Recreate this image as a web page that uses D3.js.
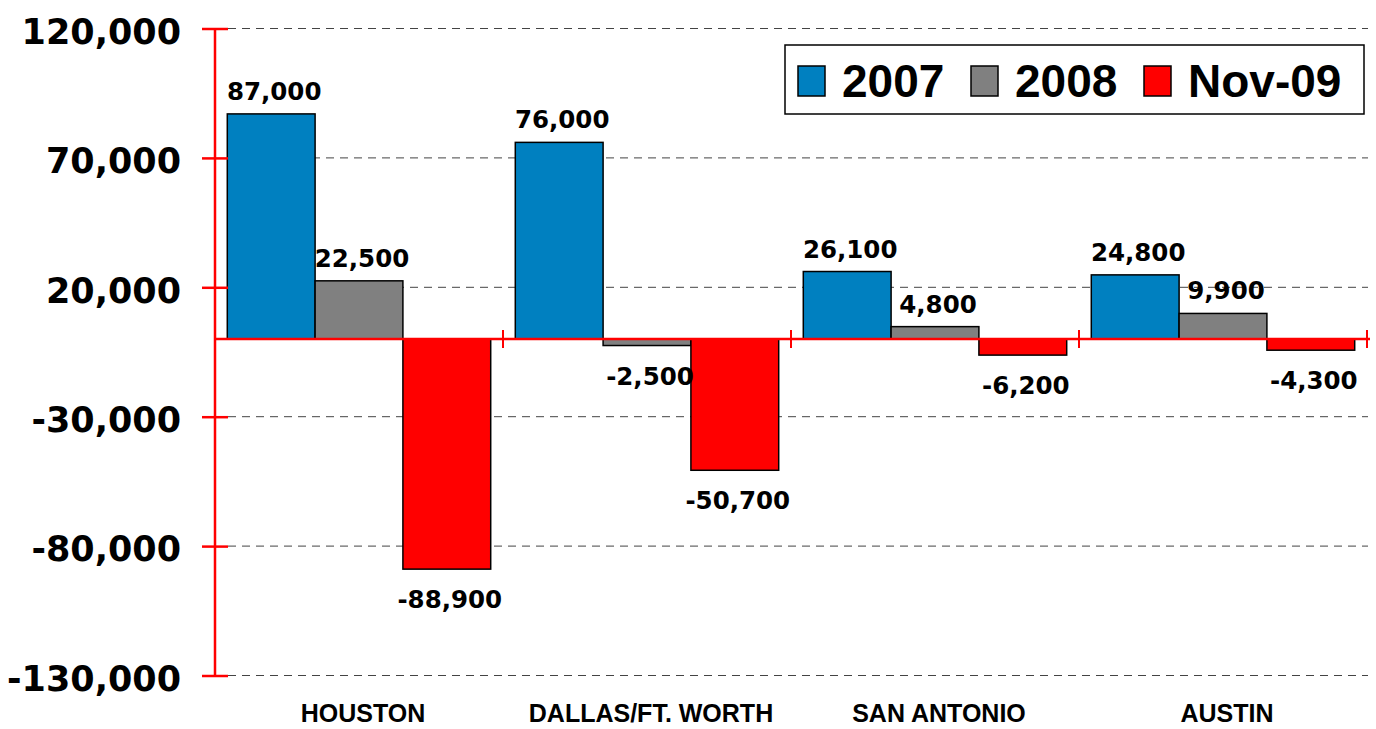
<!--
Texas job change bar chart: 2007, 2008, Nov-09
-->
<meta charset="utf-8">
<body style="margin:0;background:#fff">
<script src="https://d3js.org/d3.v7.min.js"></script>
<script>
var cities = ["HOUSTON", "DALLAS/FT. WORTH", "SAN ANTONIO", "AUSTIN"];
var seriesNames = ["2007", "2008", "Nov-09"];
var values2007 = [87000, 76000, 26100, 24800];
var values2008 = [22500, -2500, 4800, 9900];
var valuesNov09 = [-88900, -50700, -6200, -4300];
var yTicks = [120000, 70000, 20000, -30000, -80000, -130000];
var colors = ["#0080c0", "#808080", "#ff0000"];

var width = 1376, height = 729;
var plotLeft = 215, plotRight = 1367, plotTop = 28.5, plotBottom = 675.5;

var svg = d3.select("body").append("svg")
  .attr("width", width)
  .attr("height", height)
  .style("display", "block");

var allSeries = [values2007, values2008, valuesNov09];
var data = cities.map((c, i) => ({
  city: c,
  vals: seriesNames.map((s, j) => ({ series: s, idx: j, value: allSeries[j][i] }))
}));

var x = d3.scaleBand().domain(cities).range([plotLeft, plotRight]);
var xs = d3.scaleBand().domain(seriesNames).range([0, x.bandwidth()]).paddingOuter(0.14);
var y = d3.scaleLinear().domain([-130000, 120000]).range([plotBottom, plotTop]);

// plain hyphen for negatives, like the original
var locale = d3.formatLocale({ decimal: ".", thousands: ",", grouping: [3], currency: ["$", ""], minus: "-" });
var fmt = locale.format(",");

// dashed gridlines
svg.append("g")
  .selectAll("line")
  .data(yTicks)
  .enter().append("line")
  .attr("x1", plotLeft + 13).attr("x2", 1368)
  .attr("y1", d => y(d)).attr("y2", d => y(d))
  .attr("stroke", "#444")
  .attr("stroke-width", 1)
  .attr("stroke-dasharray", "8,6");

// bars
var groups = svg.append("g").selectAll("g")
  .data(data)
  .enter().append("g")
  .attr("transform", d => "translate(" + x(d.city) + ",0)");

groups.selectAll("rect")
  .data(d => d.vals)
  .enter().append("rect")
  .attr("x", d => xs(d.series))
  .attr("width", xs.bandwidth())
  .attr("y", d => y(Math.max(0, d.value)))
  .attr("height", d => Math.abs(y(d.value) - y(0)))
  .attr("fill", d => colors[d.idx])
  .attr("stroke", "#000")
  .attr("stroke-width", 1.5);

groups.selectAll("text")
  .data(d => d.vals)
  .enter().append("text")
  .attr("x", d => xs(d.series) + xs.bandwidth() / 2 + 3)
  .attr("y", d => d.value >= 0 ? y(d.value) - 14 : y(d.value) + 39)
  .attr("text-anchor", "middle")
  .style("font-family", "DejaVu Sans")
  .style("font-weight", "bold")
  .style("font-size", "24.5px")
  .text(d => fmt(d.value));

// y axis (red, ticks crossing the line)
var yAxis = svg.append("g")
  .attr("transform", "translate(" + plotLeft + ",0)")
  .call(d3.axisLeft(y).tickValues(yTicks).tickSize(13).tickPadding(21).tickFormat(fmt));
yAxis.select(".domain").attr("stroke", "#ff0000").attr("stroke-width", 2.5)
  .attr("d", "M0," + y(120000) + "V" + y(-130000));
yAxis.selectAll(".tick line").attr("x1", 13).attr("stroke", "#ff0000").attr("stroke-width", 2.5);
yAxis.selectAll(".tick text")
  .attr("dy", "0.42em")
  .attr("fill", "#000")
  .style("font-family", "DejaVu Sans")
  .style("font-weight", "bold")
  .style("font-size", "35px");

// zero line (red) with category separators
var xAxis = svg.append("g")
  .attr("transform", "translate(0," + y(0) + ")");
xAxis.append("line")
  .attr("x1", plotLeft).attr("x2", plotRight + 3)
  .attr("stroke", "#ff0000").attr("stroke-width", 2.5);
xAxis.selectAll(".sep")
  .data(cities.map(c => x(c) + x.bandwidth()).concat([plotLeft]))
  .enter().append("line")
  .attr("x1", d => d).attr("x2", d => d)
  .attr("y1", -9).attr("y2", 9)
  .attr("stroke", "#ff0000").attr("stroke-width", 2);

// category labels
svg.append("g").selectAll("text")
  .data(cities)
  .enter().append("text")
  .attr("x", d => x(d) + x.bandwidth() / 2 + 4)
  .attr("y", 722)
  .attr("text-anchor", "middle")
  .style("font-family", "Liberation Sans")
  .style("font-weight", "bold")
  .style("font-size", "25px")
  .text(d => d);

// legend
var legend = svg.append("g");
legend.append("rect")
  .attr("x", 785).attr("y", 45)
  .attr("width", 579).attr("height", 69)
  .attr("fill", "#fff").attr("stroke", "#000").attr("stroke-width", 1.5);
var legendX = [798, 971, 1144];
var items = legend.selectAll("g.item")
  .data(seriesNames)
  .enter().append("g")
  .attr("transform", (d, i) => "translate(" + legendX[i] + ",0)");
items.append("rect")
  .attr("x", 0).attr("y", 66)
  .attr("width", 27).attr("height", 30)
  .attr("fill", (d, i) => colors[i])
  .attr("stroke", "#000").attr("stroke-width", 1.5);
items.append("text")
  .attr("x", 44).attr("y", 97)
  .style("font-family", "Liberation Sans")
  .style("font-weight", "bold")
  .style("font-size", "46px")
  .text(d => d);
</script>
</body>
